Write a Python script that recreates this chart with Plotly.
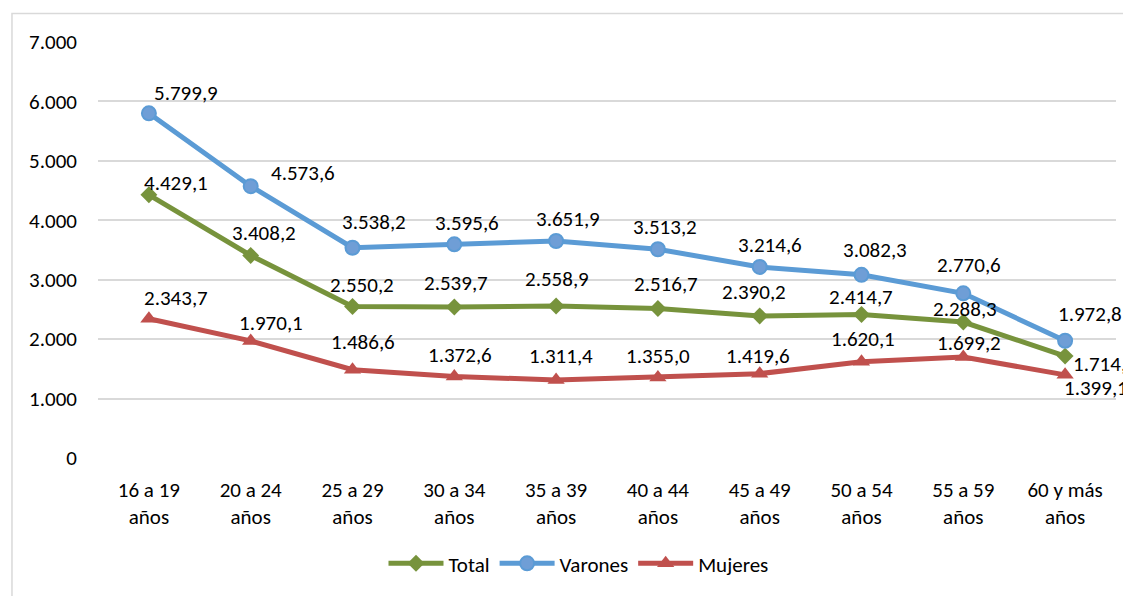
import plotly.graph_objects as go

categories = ["16 a 19 años", "20 a 24 años", "25 a 29 años", "30 a 34 años", "35 a 39 años",
              "40 a 44 años", "45 a 49 años", "50 a 54 años", "55 a 59 años", "60 y más años"]
total = [4429.1, 3408.2, 2550.2, 2539.7, 2558.9, 2516.7, 2390.2, 2414.7, 2288.3, 1714.6]
varones = [5799.9, 4573.6, 3538.2, 3595.6, 3651.9, 3513.2, 3214.6, 3082.3, 2770.6, 1972.8]
mujeres = [2343.7, 1970.1, 1486.6, 1372.6, 1311.4, 1355.0, 1419.6, 1620.1, 1699.2, 1399.1]
y_ticks = [0, 1000, 2000, 3000, 4000, 5000, 6000, 7000]

# label offsets in pixels (dx right, dy down), separate from the data
off_total = [(27, -12), (13, -22), (9, -21), (2, -24), (1, -27), (8, -24), (-6, -24), (-1, -18), (2, -13), (40, 8)]
off_varones = [(37, -20), (52, -13), (21, -26), (13, -21), (12, -22), (7, -22), (10, -22), (13, -25), (6, -28), (25, -27)]
off_mujeres = [(27, -21), (20, -18), (10, -28), (6, -21), (5, -24), (0, -21), (-2, -18), (1, -23), (6, -14), (31, 13)]

FONT = "Calibri, Carlito, Liberation Sans, Arial, sans-serif"
FS = 21
GREEN = "#77933C"
BLUE = "#5B9BD5"
RED = "#C0504D"

ticktext = [c.replace(" años", "<br>años") for c in categories]
xs = list(range(len(categories)))


def fmt(v):
    s = f"{v:,.1f}"
    return s.replace(",", "X").replace(".", ",").replace("X", ".")


fig = go.Figure()
fig.add_trace(go.Scatter(x=xs, y=total, name="Total", mode="lines+markers",
                         line=dict(color=GREEN, width=5),
                         marker=dict(symbol="diamond", size=13, color=GREEN)))
fig.add_trace(go.Scatter(x=xs, y=varones, name="Varones", mode="lines+markers",
                         line=dict(color=BLUE, width=5),
                         marker=dict(symbol="circle", size=14, color="#6F9ED6",
                                     line=dict(color=BLUE, width=2))))
fig.add_trace(go.Scatter(x=xs, y=mujeres, name="Mujeres", mode="lines+markers",
                         line=dict(color=RED, width=5),
                         marker=dict(symbol="triangle-up", size=15, color=RED)))

annotations = []
for vals, offs in ((total, off_total), (varones, off_varones), (mujeres, off_mujeres)):
    for i, v in enumerate(vals):
        dx, dy = offs[i]
        annotations.append(dict(x=xs[i], y=v, text=fmt(v), showarrow=False,
                                xshift=dx, yshift=-dy,
                                font=dict(family=FONT, size=FS, color="#000000")))

fig.update_layout(
    width=1123, height=588,
    margin=dict(l=90, r=15, t=34, b=132),
    paper_bgcolor="white", plot_bgcolor="white",
    separators=",.",
    font=dict(family=FONT, size=FS, color="#000000"),
    showlegend=True,
    legend=dict(orientation="h", x=0.472, xanchor="center", y=-0.254, yanchor="middle",
                font=dict(family=FONT, size=FS, color="#000000"),
                itemwidth=55, tracegroupgap=0),
    annotations=annotations,
    shapes=[dict(type="rect", xref="paper", yref="paper",
                 x0=-0.0845, x1=1.3, y0=-0.5, y1=1.0687,
                 line=dict(color="#D9D9D9", width=1.5), layer="below")],
)
fig.update_xaxes(range=[-0.5, 9.5], tickvals=xs, ticktext=ticktext, showgrid=False,
                 zeroline=False, showline=False, ticks="", ticklabelstandoff=17,
                 tickfont=dict(family=FONT, size=FS, color="#000000"))
fig.update_yaxes(range=[0, 7000], tickvals=y_ticks, tickformat=",d", showgrid=True,
                 gridcolor="#D9D9D9", gridwidth=1.5, zeroline=False, showline=False,
                 ticks="", ticklabelstandoff=20,
                 tickfont=dict(family=FONT, size=FS, color="#000000"))

fig.write_html("out.html")
